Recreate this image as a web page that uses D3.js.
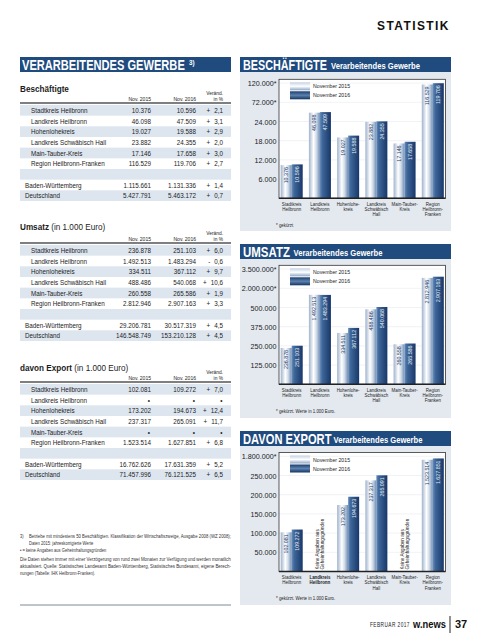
<!DOCTYPE html>
<html><head><meta charset="utf-8">
<script src="https://cdn.jsdelivr.net/npm/d3@7"></script>
<style>
html,body{margin:0;padding:0;background:#fff;}
svg{display:block;}
text{font-family:"Liberation Sans",Arial,sans-serif;}
</style></head><body>
<svg id="c" width="480" height="640"></svg>
<script>
// ---------- DATA ----------
const regions = ["Stadtkreis Heilbronn","Landkreis Heilbronn","Hohenlohekreis","Landkreis Schwäbisch Hall","Main-Tauber-Kreis","Region Heilbronn-Franken"];
const states = ["Baden-Württemberg","Deutschland"];
const chartCats = [["Stadtkreis","Heilbronn"],["Landkreis","Heilbronn"],["Hohenlohe-","kreis"],["Landkreis","Schwäbisch","Hall"],["Main-Tauber-","Kreis"],["Region","Heilbronn-","Franken"]];
const seriesNames = ["November 2015","November 2016"];

const empl2015 = [10376, 46098, 19027, 23882, 17146, 116529];
const empl2016 = [10596, 47509, 19588, 24355, 17658, 119706];
const emplChg  = [2.1, 3.1, 2.9, 2.0, 3.0, 2.7];
const emplState2015 = [1115661, 5427791];
const emplState2016 = [1131336, 5463172];
const emplStateChg  = [1.4, 0.7];

const ums2015 = [236878, 1492513, 334511, 488486, 260558, 2812946];
const ums2016 = [251103, 1483294, 367112, 540068, 265586, 2907163];
const umsChg  = [6.0, -0.6, 9.7, 10.6, 1.9, 3.3];
const umsState2015 = [29206781, 146548749];
const umsState2016 = [30517319, 153210128];
const umsStateChg  = [4.5, 4.5];

const exp2015 = [102081, null, 173202, 237317, null, 1523514];
const exp2016 = [109272, null, 194673, 265091, null, 1627851];
const expChg  = [7.0, null, 12.4, 11.7, null, 6.8];
const expState2015 = [16762626, 71457996];
const expState2016 = [17631359, 76121525];
const expStateChg  = [5.2, 6.5];

const emplTicks = [6000, 12000, 18000, 24000, 72000, 120000];
const emplTickLabels = ["6.000","12.000","18.000","24.000","72.000*","120.000*"];
const umsTicks = [125000, 250000, 375000, 500000, 2000000, 3500000];
const umsTickLabels = ["125.000","250.000","375.000","500.000","2.000.000*","3.500.000*"];
const expTicks = [50000, 100000, 150000, 200000, 250000, 1800000];
const expTickLabels = ["50.000","100.000","150.000","200.000","250.000","1.800.000*"];

// ---------- SETUP ----------
const svg = d3.select("#c");
const NAVY = "#1f4b7e", PANEL = "#e4e9f0", SHADE = "#dde5ef", TXT = "#1c1c1c";
const loc = d3.formatLocale({decimal: ",", thousands: ".", grouping: [3], currency: ["", " €"]});
const nf = loc.format(",.0f"), pf = loc.format(".1f");

// condensed text helper: horizontal scaling of a regular font
function T(parent, x, y, str, o = {}) {
  const g = parent.append("g").attr("transform", `translate(${x},${y})` + (o.rot ? ` rotate(${o.rot})` : ""));
  const t = g.append("text").attr("text-anchor", o.anchor || "start").attr("dy", o.dy == null ? "0.35em" : o.dy)
    .attr("fill", o.fill || TXT).style("font-size", (o.size || 7) + "px")
    .style("font-weight", o.bold ? "bold" : "normal").text(str);
  if (o.ls) t.style("letter-spacing", o.ls + "px");
  let sx = o.sx || 0.86;
  if (o.fit) sx = o.fit / t.node().getComputedTextLength();
  t.attr("transform", `scale(${sx},1)`);
  t.w = t.node().getComputedTextLength() * sx;
  return t;
}

const defs = svg.append("defs");
function grad(id, stops, vertical) {
  const g = defs.append("linearGradient").attr("id", id)
    .attr("x1", 0).attr("y1", 0).attr("x2", vertical ? 0 : 1).attr("y2", vertical ? 1 : 0);
  stops.forEach(s => g.append("stop").attr("offset", s[0]).attr("stop-color", s[1]));
}
grad("g15", [[0,"#9fb3cd"],[0.42,"#ffffff"],[0.68,"#d0dbe8"],[1,"#6e8cb2"]]);
grad("g16", [[0,"#6a8dba"],[0.22,"#3f6799"],[1,"#17376a"]]);
grad("l15", [[0,"#c4d2e4"],[0.5,"#ffffff"],[1,"#8ea6c5"]], true);
grad("l16", [[0,"#1b3d6d"],[0.5,"#5c81af"],[1,"#14345f"]], true);

// header
T(svg, 377, 25.5, "STATISTIK", {size: 12.5, bold: true, fit: 73, ls: 1.5, fill: "#111"});

// ---------- LEFT TABLES ----------
svg.append("rect").attr("x", 20).attr("y", 57).attr("width", 211).attr("height", 15).attr("fill", NAVY);
T(svg, 22, 64.8, "VERARBEITENDES GEWERBE", {size: 15.5, bold: true, fit: 163, fill: "#fff"});
T(svg, 189, 62.5, "3)", {size: 7, bold: true, sx: 0.9, fill: "#fff"});

function drawTable(t) {
  const g = svg.append("g");
  const b = T(g, 20, t.titleY, t.bold, {size: 9.6, bold: true, sx: 0.85});
  if (t.rest) T(g, 20 + b.w + 2.3, t.titleY, t.rest, {size: 9.6, sx: 0.85});
  T(g, 223, t.lineY - 9.5, "Veränd.", {size: 5.5, anchor: "end", sx: 0.88});
  T(g, 223, t.lineY - 3.5, "in %", {size: 5.5, anchor: "end", sx: 0.88});
  T(g, 151, t.lineY - 3.5, "Nov. 2015", {size: 5.6, anchor: "end", sx: 0.9});
  T(g, 196, t.lineY - 3.5, "Nov. 2016", {size: 5.6, anchor: "end", sx: 0.9});
  g.append("line").attr("x1", 20).attr("x2", 231).attr("y1", t.lineY).attr("y2", t.lineY).attr("stroke", "#555").attr("stroke-width", 1.6);
  const rh = 10.67, r0 = t.lineY + 7.3;
  const rows = [];
  regions.forEach((r, i) => rows.push({label: r, a: t.a[i], b: t.b[i], c: t.c[i], indent: 31}));
  rows.push(null);
  states.forEach((s, i) => rows.push({label: s, a: t.sa[i], b: t.sb[i], c: t.sc[i], indent: 25}));
  rows.forEach((r, i) => {
    const cy = r0 + i * rh;
    if (i % 2 === 0) g.append("rect").attr("x", 20).attr("y", cy - rh / 2).attr("width", 211).attr("height", rh).attr("fill", SHADE);
    if (!r) return;
    const tx = (x, s, anchor) => T(g, x, cy, s, {size: 7.4, anchor: anchor || "end", sx: 0.85});
    tx(r.indent, r.label, "start");
    if (r.a == null) {
      tx(150, "•"); tx(195, "•"); tx(222.5, "•");
    } else {
      tx(151, nf(r.a)); tx(196, nf(r.b));
      const p = tx(223, pf(Math.abs(r.c)));
      tx(223 - p.w - 4, r.c < 0 ? "-" : "+");
    }
  });
}
drawTable({titleY: 89, lineY: 103, bold: "Beschäftigte", rest: "", a: empl2015, b: empl2016, c: emplChg, sa: emplState2015, sb: emplState2016, sc: emplStateChg});
drawTable({titleY: 227, lineY: 243, bold: "Umsatz", rest: "(in 1.000 Euro)", a: ums2015, b: ums2016, c: umsChg, sa: umsState2015, sb: umsState2016, sc: umsStateChg});
drawTable({titleY: 368, lineY: 382, bold: "davon Export", rest: "(in 1.000 Euro)", a: exp2015, b: exp2016, c: expChg, sa: expState2015, sb: expState2016, sc: expStateChg});

// footnotes
const notes = [
  {x: 20, y: 536, t: "3)"},
  {x: 29, y: 536, t: "Betriebe mit mindestens 50 Beschäftigten. Klassifikation der Wirtschaftszweige, Ausgabe 2008 (WZ 2008);", fit: 202},
  {x: 29, y: 543, t: "Daten 2015: jahreskorrigierte Werte"},
  {x: 20, y: 550, t: "• = keine Angaben aus Geheimhaltungsgründen"},
  {x: 20, y: 559, t: "Die Daten stehen immer mit einer Verzögerung von rund zwei Monaten zur Verfügung und werden monatlich", fit: 211},
  {x: 20, y: 566, t: "aktualisiert. Quelle: Statistisches Landesamt Baden-Württemberg, Statistisches Bundesamt, eigene Berech-", fit: 211},
  {x: 20, y: 573, t: "nungen (Tabelle: IHK Heilbronn-Franken)."}
];
notes.forEach(n => T(svg, n.x, n.y, n.t, {size: 4.8, sx: 0.85, fit: n.fit, fill: "#333"}));
svg.append("line").attr("x1", 20).attr("x2", 231).attr("y1", 605).attr("y2", 605).attr("stroke", "#7d8a96").attr("stroke-width", 1);

// ---------- RIGHT CHARTS ----------
function drawChart(c) {
  const g = svg.append("g");
  const x0 = 279, x1 = 445.5, step = 19.2, yTop = c.y0 - 119;
  g.append("rect").attr("x", 240).attr("y", c.barY).attr("width", 211).attr("height", 15).attr("fill", NAVY);
  g.append("rect").attr("x", 240).attr("y", c.barY + 15).attr("width", 211).attr("height", c.panelBottom - c.barY - 15).attr("fill", PANEL);
  T(g, 243, c.barY + 8, c.big, {size: 15.5, bold: true, fit: c.bigLen, fill: "#fff"});
  T(g, c.smallX, c.barY + 8.3, "Verarbeitendes Gewerbe", {size: 9.6, bold: true, fit: 89, fill: "#fff"});

  const y = d3.scaleLinear().domain(c.domain).range(c.steps.map(s => c.y0 - s * step));
  const x = d3.scaleBand().domain(d3.range(regions.length)).range([x0, x1]).paddingInner(0.22).paddingOuter(0.06);
  const xs = d3.scaleBand().domain([0, 1]).range([0, x.bandwidth()]);

  g.append("rect").attr("x", x0).attr("y", yTop).attr("width", x1 - x0).attr("height", c.y0 - yTop).attr("fill", "#fff");
  g.selectAll(".grid").data(c.ticks).join("line").attr("x1", x0).attr("x2", x1)
    .attr("y1", d => y(d)).attr("y2", d => y(d)).attr("stroke", "#e6e9ee").attr("stroke-width", 0.6);

  [c.a, c.b].forEach((vals, si) => {
    const data = vals.map((v, i) => ({v, i})).filter(d => d.v != null);
    g.selectAll(".bar" + si).data(data).join("rect")
      .attr("x", d => x(d.i) + xs(si)).attr("width", xs.bandwidth())
      .attr("y", d => y(d.v)).attr("height", d => c.y0 - y(d.v))
      .attr("fill", si ? "url(#g16)" : "url(#g15)");
    data.forEach(d => T(g, x(d.i) + xs(si) + xs.bandwidth() / 2, y(d.v) + 2, nf(d.v),
      {rot: -90, anchor: "end", size: 5.6, sx: 0.95, fill: si ? "#e3ebf5" : "#1f3d6a"}));
  });
  // missing values note
  c.a.forEach((v, i) => {
    if (v != null) return;
    const cx = x(i) + x.bandwidth() / 2;
    ["Keine Angaben aus", "Geheimhaltungsgründen"].forEach((s, k) =>
      T(g, cx - 2.6 + k * 5.2, c.y0 - 2, s, {rot: -90, size: 5, sx: 0.93, fill: "#222"}));
  });

  g.append("rect").attr("x", x0).attr("y", yTop).attr("width", x1 - x0).attr("height", c.y0 - yTop)
    .attr("fill", "none").attr("stroke", "#333").attr("stroke-width", 0.8);
  g.append("line").attr("x1", x0).attr("x2", x1).attr("y1", c.y0).attr("y2", c.y0).attr("stroke", "#222").attr("stroke-width", 1.5);

  const tsx = 0.92;
  const ax = g.append("g").attr("transform", `translate(${x0},0)`)
    .call(d3.axisLeft(y).tickValues(c.ticks).tickFormat((d, i) => c.tickLabels[i]).tickSize(0).tickPadding(2.5));
  ax.select(".domain").remove();
  ax.selectAll("text").attr("fill", TXT).style("font-size", "7.8px")
    .style("font-family", '"Liberation Sans",Arial,sans-serif')
    .attr("x", -2.5 / tsx).attr("transform", `scale(${tsx},1)`);

  // x labels
  chartCats.forEach((lines, i) => {
    const cx = x(i) + x.bandwidth() / 2;
    lines.forEach((s, k) => T(g, cx, c.y0 + 5.7 + k * 5.3, s,
      {anchor: "middle", size: 5.3, sx: 0.84, bold: c.boldCat === i}));
  });

  // legend
  const ly = c.y0 - 112;
  seriesNames.forEach((s, k) => {
    g.append("rect").attr("x", 290).attr("y", ly + k * 9 - 4).attr("width", 20).attr("height", 8).attr("fill", k ? "url(#l16)" : "url(#l15)");
    T(g, 313, ly + k * 9, s, {size: 6, sx: 0.87});
  });

  T(g, 276, c.y0 + 26.5, c.foot, {size: 5, sx: 0.87});
}

drawChart({barY: 57, panelBottom: 231, y0: 198.3, big: "BESCHÄFTIGTE", bigLen: 84, smallX: 331,
  domain: [0, 24000, 72000, 120000], steps: [0, 4, 5, 6], ticks: emplTicks, tickLabels: emplTickLabels,
  a: empl2015, b: empl2016, foot: "* gekürzt", boldCat: -1});
drawChart({barY: 244, panelBottom: 418, y0: 384.3, big: "UMSATZ", bigLen: 47, smallX: 293.5,
  domain: [0, 500000, 2000000, 3500000], steps: [0, 4, 5, 6], ticks: umsTicks, tickLabels: umsTickLabels,
  a: ums2015, b: ums2016, foot: "* gekürzt. Werte in 1.000 Euro.", boldCat: -1});
drawChart({barY: 431, panelBottom: 605, y0: 571.5, big: "DAVON EXPORT", bigLen: 88.5, smallX: 333.5,
  domain: [0, 250000, 1800000], steps: [0, 5, 6], ticks: expTicks, tickLabels: expTickLabels,
  a: exp2015, b: exp2016, foot: "* gekürzt. Werte in 1.000 Euro.", boldCat: 1});

// footer
T(svg, 370, 624.5, "FEBRUAR 2017", {size: 6.5, fit: 40, ls: 0.6, fill: "#222"});
T(svg, 413, 624, "w.news", {size: 10.5, bold: true, fit: 33, fill: "#111"});
svg.append("line").attr("x1", 450).attr("x2", 450).attr("y1", 616).attr("y2", 633).attr("stroke", "#222").attr("stroke-width", 1);
T(svg, 455, 624, "37", {size: 11, bold: true, sx: 1, fill: "#111"});
</script>
</body></html>
